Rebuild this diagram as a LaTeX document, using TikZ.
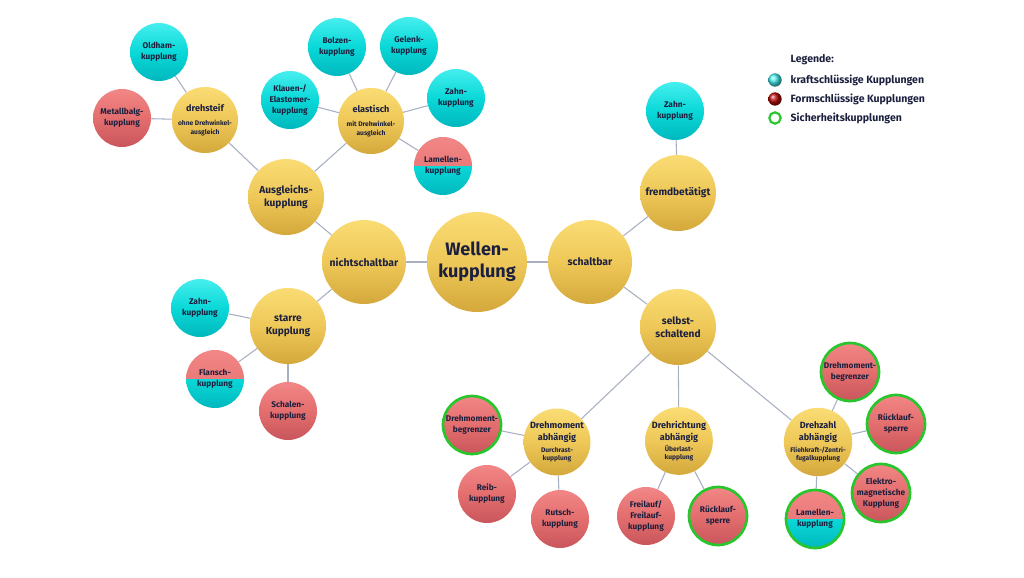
\documentclass[tikz,border=0pt]{standalone}
\usepackage{fontspec}
\setmainfont{Fira Sans}
\usepackage{tikz}
\usetikzlibrary{backgrounds}
\definecolor{txtnavy}{RGB}{28,32,62}
\definecolor{linkgray}{RGB}{168,176,194}
\definecolor{ylwtop}{RGB}{250,220,116}
\definecolor{ylwmid}{RGB}{238,200,88}
\definecolor{ylwbot}{RGB}{212,168,60}
\definecolor{cyntop}{RGB}{70,238,238}
\definecolor{cynmid}{RGB}{10,216,216}
\definecolor{cynbot}{RGB}{0,184,190}
\definecolor{redtop}{RGB}{242,134,134}
\definecolor{redmid}{RGB}{228,110,110}
\definecolor{redbot}{RGB}{200,86,92}
\definecolor{ringgreen}{RGB}{38,198,44}
\definecolor{legred}{RGB}{185,10,10}
\newcommand{\subtxt}[1]{{\fontsize{5}{6.4}\selectfont #1}}

\begin{document}
\begin{tikzpicture}[x=0.75pt,y=0.75pt,yscale=-1,xscale=1,
  ball/.style={circle,inner sep=0pt,align=center,text=txtnavy,font=\bfseries},
  yball/.style={ball,top color=ylwtop,bottom color=ylwbot,middle color=ylwmid},
  cball/.style={ball,top color=cyntop,bottom color=cynbot,middle color=cynmid,minimum size=43.5pt,font=\bfseries\fontsize{6.2}{8.2}\selectfont},
  rball/.style={ball,top color=redtop,bottom color=redbot,middle color=redmid,minimum size=43.5pt,font=\bfseries\fontsize{6.2}{8.2}\selectfont},
  hball/.style={ball,minimum size=43.5pt,font=\bfseries\fontsize{6.2}{8.2}\selectfont,
    path picture={
      \shade[top color=redtop,bottom color=redmid] (path picture bounding box.north west) rectangle (path picture bounding box.east);
      \shade[top color=cynmid,bottom color=cynbot] (path picture bounding box.west) rectangle (path picture bounding box.south east);}},
  safe/.style={draw=ringgreen,line width=2pt},
  bigball/.style={yball,minimum size=63pt,font=\bfseries\fontsize{7.8}{9.6}\selectfont},
  midball/.style={yball,minimum size=57pt,font=\bfseries\fontsize{7.6}{9.4}\selectfont},
  subball/.style={yball,minimum size=49.5pt,font=\bfseries\fontsize{6.8}{8.4}\selectfont},
  legtxt/.style={anchor=west,text=txtnavy,font=\bfseries\fontsize{7.9}{9.5}\selectfont},
  link/.style={draw=linkgray,line width=0.8pt}]

\useasboundingbox (0,0) rectangle (1024,578);

%Root
\node [yball,minimum size=75pt,font=\bfseries\fontsize{13.5}{16.5}\selectfont] (wk) at (477,262) {Wellen-\\kupplung};
\node [bigball] (nschalt) at (364,262) {nichtschaltbar};
\node [bigball] (schalt) at (590,262) {schaltbar};

%nichtschaltbar branch
\node [midball] (ausgl) at (286,197) {Ausgleichs-\\kupplung};
\node [midball] (starr) at (288,326) {starre\\Kupplung};
\node [subball] (dsteif) at (205,120) {drehsteif\\[2.4pt]\subtxt{ohne Drehwinkel-}\\[-1.8pt]\subtxt{ausgleich}};
\node [subball] (elast) at (371,121) {elastisch\\[2.4pt]\subtxt{mit Drehwinkel-}\\[-1.8pt]\subtxt{ausgleich}};
\node [cball] (oldham) at (159,52) {Oldham-\\kupplung};
\node [rball] (mbalg) at (122,118) {Metallbalg-\\kupplung};
\node [cball] (bolzen) at (337,47) {Bolzen-\\kupplung};
\node [cball] (gelenk) at (409,46) {Gelenk-\\kupplung};
\node [cball] (klauen) at (290,100) {Klauen-/\\Elastomer-\\kupplung};
\node [cball] (zahnE) at (456,98) {Zahn-\\kupplung};
\node [hball] (lamE) at (443,166) {Lamellen-\\kupplung};
\node [cball] (zahnS) at (200,308) {Zahn-\\kupplung};
\node [hball] (flansch) at (215,379) {Flansch-\\kupplung};
\node [rball] (schalen) at (288,411) {Schalen-\\kupplung};

%schaltbar branch
\node [midball] (fremd) at (678,193) {fremdbetätigt};
\node [cball] (zahnF) at (675,111) {Zahn-\\kupplung};
\node [midball] (selbst) at (678,327) {selbst-\\schaltend};
\node [subball] (dmab) at (557,442) {Drehmoment\\[0.6pt]abhängig\\[0pt]\subtxt{Durchrast-}\\[-2.1pt]\subtxt{kupplung}};
\node [subball] (drab) at (679,441) {Drehrichtung\\[0.6pt]abhängig\\[0pt]\subtxt{Überlast-}\\[-2.1pt]\subtxt{kupplung}};
\node [subball] (dzab) at (818,442) {Drehzahl\\[0.6pt]abhängig\\[0pt]\subtxt{Fliehkraft-/Zentri-}\\[-2.1pt]\subtxt{fugalkupplung}};
\node [rball,safe] (dmbA) at (472,425) {Drehmoment-\\begrenzer};
\node [rball] (reib) at (487,494) {Reib-\\kupplung};
\node [rball] (rutsch) at (560,519) {Rutsch-\\kupplung};
\node [rball] (freil) at (646,516) {Freilauf/\\Freilauf-\\kupplung};
\node [rball,safe] (rueckA) at (718,516) {Rücklauf-\\sperre};
\node [rball,safe] (dmbB) at (850,372) {Drehmoment-\\begrenzer};
\node [rball,safe] (rueckB) at (896,424) {Rücklauf-\\sperre};
\node [rball,safe] (elektro) at (881,493) {Elektro-\\magnetische\\Kupplung};
\node [hball,safe] (lamB) at (815,519) {Lamellen-\\kupplung};

%Legend
\node [legtxt] (legtitle) at (786,60) {Legende:};
\node [circle,inner sep=0pt,minimum size=10pt,ball color=cyntop] (legc) at (775,80) {};
\node [circle,inner sep=0pt,minimum size=10pt,ball color=legred] (legr) at (775,99) {};
\node [circle,inner sep=0pt,minimum size=8.5pt,draw=ringgreen,line width=1.6pt,fill=white] (legg) at (775,118) {};
\node [legtxt] (legct) at (786,80) {kraftschlüssige Kupplungen};
\node [legtxt] (legrt) at (786,99) {Formschlüssige Kupplungen};
\node [legtxt] (leggt) at (786,118) {Sicherheitskupplungen};

%Connectors
\begin{scope}[on background layer]
\fill [white] (0,0) rectangle (1024,578);
\draw [link] (wk) -- (nschalt);
\draw [link] (wk) -- (schalt);
\draw [link] (nschalt) -- (ausgl);
\draw [link] (nschalt) -- (starr);
\draw [link] (ausgl) -- (dsteif);
\draw [link] (ausgl) -- (elast);
\draw [link] (dsteif) -- (oldham);
\draw [link] (dsteif) -- (mbalg);
\draw [link] (elast) -- (klauen);
\draw [link] (elast) -- (bolzen);
\draw [link] (elast) -- (gelenk);
\draw [link] (elast) -- (zahnE);
\draw [link] (elast) -- (lamE);
\draw [link] (starr) -- (zahnS);
\draw [link] (starr) -- (flansch);
\draw [link] (starr) -- (schalen);
\draw [link] (schalt) -- (fremd);
\draw [link] (schalt) -- (selbst);
\draw [link] (fremd) -- (zahnF);
\draw [link] (selbst) -- (dmab);
\draw [link] (selbst) -- (drab);
\draw [link] (selbst) -- (dzab);
\draw [link] (dmab) -- (dmbA);
\draw [link] (dmab) -- (reib);
\draw [link] (dmab) -- (rutsch);
\draw [link] (drab) -- (freil);
\draw [link] (drab) -- (rueckA);
\draw [link] (dzab) -- (dmbB);
\draw [link] (dzab) -- (rueckB);
\draw [link] (dzab) -- (elektro);
\draw [link] (dzab) -- (lamB);
\end{scope}

\end{tikzpicture}
\end{document}
